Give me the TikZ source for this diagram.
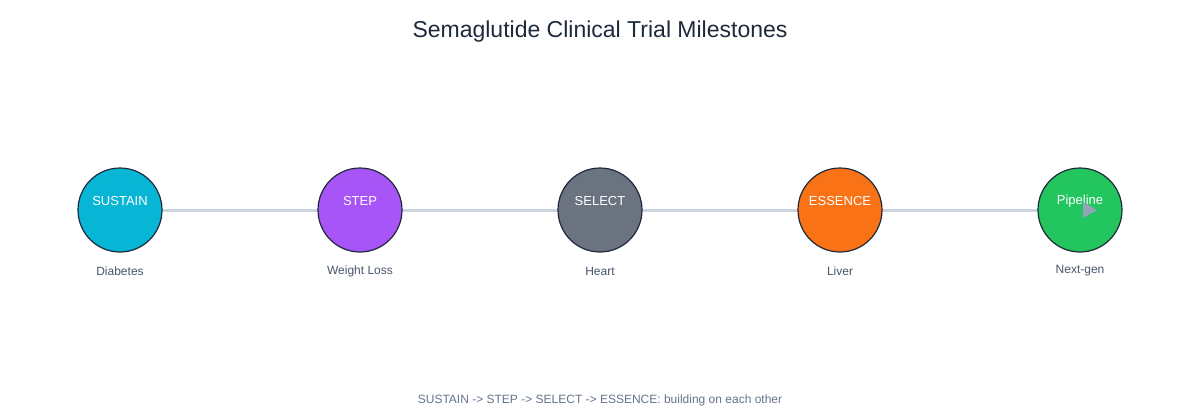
\documentclass[tikz,border=0pt]{standalone}
\usepackage{fontspec}
\setmainfont{Liberation Sans}
\definecolor{cA}{HTML}{06B6D4}\definecolor{cB}{HTML}{A855F7}\definecolor{cC}{HTML}{6B7280}
\definecolor{cD}{HTML}{F97316}\definecolor{cE}{HTML}{22C55E}\definecolor{edge}{HTML}{1E293B}
\definecolor{ln}{HTML}{CBD5E1}\definecolor{lab}{HTML}{475569}\definecolor{foot}{HTML}{64748B}
\definecolor{tri}{HTML}{94A3B8}
\begin{document}
\begin{tikzpicture}[x=1pt,y=-1pt,
  ms/.style={circle,draw=edge,line width=1.2pt,minimum size=84pt,inner sep=0pt},
  mt/.style={text=white,font=\fontsize{13}{13}\selectfont,anchor=center},
  lb/.style={text=lab,font=\fontsize{12}{12}\selectfont,anchor=center}]
\useasboundingbox (0,0) rectangle (1200,420);
\node[font=\fontsize{23}{23}\selectfont,text=edge] (title) at (600,32) {Semaglutide Clinical Trial Milestones};
\coordinate (s) at (120,210); \coordinate (e) at (1080,210);
\draw[ln,line width=3pt] (s) -- (e);
\foreach \i/\x/\c/\t/\l in {1/120/cA/SUSTAIN/Diabetes,2/360/cB/STEP/Weight Loss,3/600/cC/SELECT/Heart/CV,4/840/cD/ESSENCE/Liver/MASH,5/1080/cE/Pipeline/Next-gen}{
  \node[ms,fill=\c] (n\i) at (\x,210) {};
  \node[mt] (t\i) at (\x,201) {\t};
  \node[lb] (l\i) at (\x,271) {\l};
}
\fill[tri] (1083,202) -- (1097,210) -- (1083,218) -- cycle;
\node[text=foot,font=\fontsize{12}{12}\selectfont] (foot) at (600,400) {SUSTAIN -> STEP -> SELECT -> ESSENCE: building on each other};
\end{tikzpicture}
\end{document}
